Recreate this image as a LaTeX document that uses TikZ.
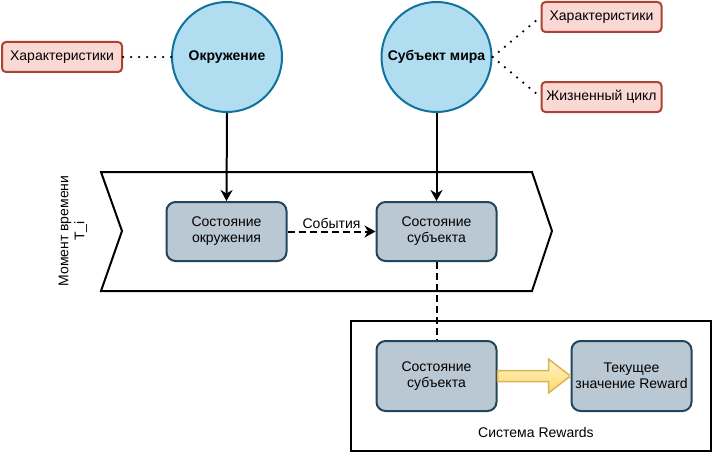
\documentclass[tikz,border=0pt]{standalone}
\usepackage{fontspec}
\setmainfont{Liberation Sans}
\usetikzlibrary{arrows.meta,calc}
\definecolor{circfill}{HTML}{B1DDF0}
\definecolor{circstroke}{HTML}{10739E}
\definecolor{pinkfill}{HTML}{FAD9D5}
\definecolor{pinkstroke}{HTML}{AE4132}
\definecolor{greyfill}{HTML}{BAC8D3}
\definecolor{greystroke}{HTML}{23445D}
\definecolor{yellowtop}{HTML}{FFF2CC}
\definecolor{yellowbot}{HTML}{FFD966}
\definecolor{yellowstroke}{HTML}{D6B656}
\begin{document}
\begin{tikzpicture}[x=1pt,y=-1pt,
  txt/.style={font=\fontsize{14}{16}\selectfont},
  circ/.style={circle, draw=circstroke, fill=circfill, line width=2pt, minimum size=110pt, inner sep=0pt, font=\fontsize{14}{16}\selectfont\bfseries},
  pinkbox/.style={rectangle, rounded corners=4pt, draw=pinkstroke, fill=pinkfill, line width=2pt, minimum width=120pt, minimum height=30pt, inner sep=0pt, txt},
  statebox/.style={rectangle, rounded corners=9pt, draw=greystroke, fill=greyfill, line width=2pt, minimum width=120pt, inner sep=0pt, align=center, txt},
  arr/.style={line width=2pt, -{Stealth[length=11pt,width=12pt,inset=3.5pt]}},
  dashline/.style={line width=2pt, dash pattern=on 7pt off 4pt},
  dotline/.style={line width=2.5pt, line cap=round, dash pattern=on 0pt off 8pt},
  yarrow/.style={draw=yellowstroke, line width=1.5pt, top color=yellowtop, bottom color=yellowbot, line join=miter}
]
\useasboundingbox (0,0) rectangle (712,452);

% chevron (time step)
\draw[line width=2pt, line join=miter] (101,172) -- (532,172) -- (552,231) -- (532,291) -- (101,291) -- (122,231) -- cycle;
\node[rotate=90, align=center, txt] (tlabel) at (73,231) {Момент времени\\T\_i};

% rewards system
\node[draw, line width=2pt, minimum width=360pt, minimum height=130pt, inner sep=0pt] (rew) at (531,386) {};
\node[txt] (rewlabel) at (536,432) {Система Rewards};

% top entities
\node[circ] (env) at (227,57) {Окружение};
\node[circ] (subj) at (436.5,57) {Субъект мира};
\node[pinkbox] (charL) at (62,57) {Характеристики};
\node[pinkbox] (charR) at (601.5,17) {Характеристики};
\node[pinkbox] (life) at (601.5,97) {Жизненный цикл};

% states
\node[statebox, minimum height=59pt] (senv) at (226.5,231.5) {Состояние\\окружения};
\node[statebox, minimum height=59pt] (ssubj) at (436.5,231.5) {Состояние\\субъекта};
\node[statebox, minimum height=70pt] (ssubj2) at (436.5,376) {Состояние\\субъекта};
\node[statebox, minimum height=70pt] (rewval) at (631.5,376) {Текущее\\значение Reward};

% connectors
\draw[dotline] (charL.east) -- (env.west);
\draw[dotline] (subj.east) -- (charR.west);
\draw[dotline] (subj.east) -- (life.west);
\draw[arr] (env.south) -- (senv.north);
\draw[arr] (subj.south) -- (ssubj.north);
\draw[dashline, -{Stealth[length=11pt,width=12pt,inset=3.5pt]}] (senv.east) -- node[above, inner sep=2pt, txt] (ev) {События} (ssubj.west);
\draw[dashline] (ssubj.south) -- (ssubj2.north);

% yellow block arrow
\draw[yarrow] ($(ssubj2.east)+(0,-5.5)$) -- ($(rewval.west)+(-22,-5.5)$) -- ($(rewval.west)+(-22,-17)$) -- (rewval.west) -- ($(rewval.west)+(-22,17)$) -- ($(rewval.west)+(-22,5.5)$) -- ($(ssubj2.east)+(0,5.5)$) -- cycle;
\end{tikzpicture}
\end{document}
